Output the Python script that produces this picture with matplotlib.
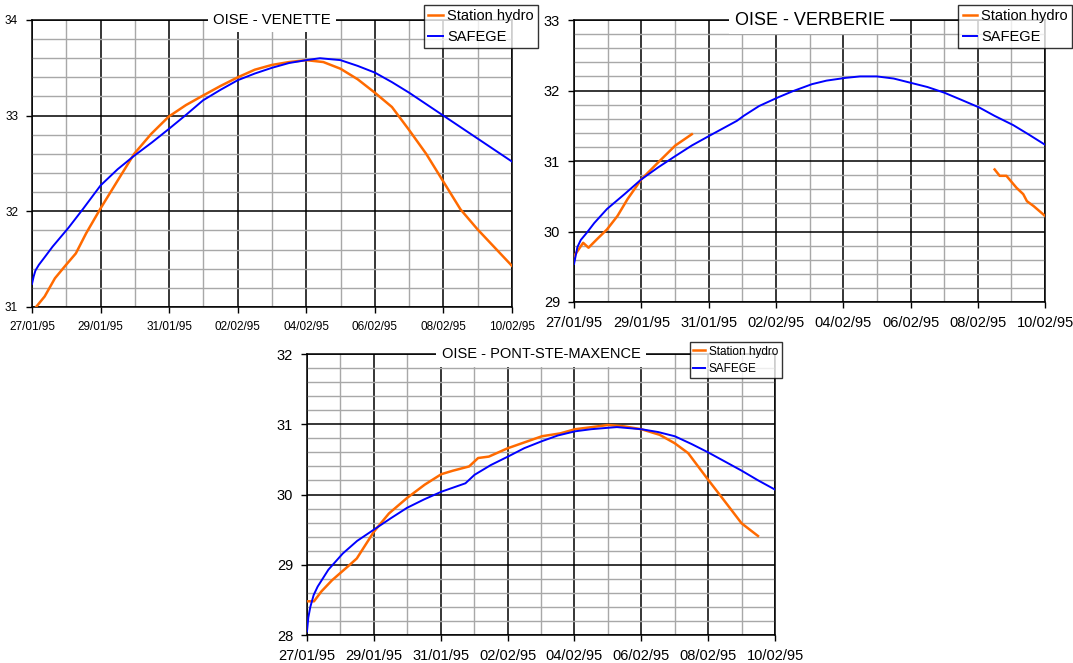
import numpy as np
import matplotlib
matplotlib.use("Agg")
import matplotlib.pyplot as plt
from matplotlib.ticker import MultipleLocator, FixedLocator

plt.rcParams['font.family'] = ['Liberation Sans', 'DejaVu Sans']

# x values are days after 27/01/95
date_labels = ['27/01/95', '29/01/95', '31/01/95', '02/02/95',
               '04/02/95', '06/02/95', '08/02/95', '10/02/95']
date_ticks = [0, 2, 4, 6, 8, 10, 12, 14]

# OISE - VENETTE
venette_hydro_t = [0.12, 0.37, 0.67, 0.97, 1.28, 1.58, 2.0, 2.48, 2.98, 3.48, 3.99, 4.49,
                   4.99, 5.5, 6.0, 6.5, 7.0, 7.5, 8.0, 8.5, 9.0, 9.5, 10.0, 10.5, 11.0,
                   11.5, 12.0, 12.5, 13.0, 13.5, 14.0]
venette_hydro_z = [31.0, 31.11, 31.3, 31.43, 31.56, 31.77, 32.03, 32.31, 32.6, 32.81, 32.99, 33.11,
                   33.21, 33.31, 33.4, 33.48, 33.53, 33.56, 33.58, 33.56, 33.49, 33.38, 33.24, 33.09,
                   32.85, 32.6, 32.31, 32.02, 31.81, 31.62, 31.43]
venette_safege_t = [0.0, 0.05, 0.1, 0.2, 0.37, 0.6, 1.07, 1.5, 2.0, 2.5, 2.98, 3.5, 3.99, 4.5,
                    4.99, 5.5, 6.0, 6.5, 7.0, 7.5, 8.0, 8.4, 9.0, 9.5, 10.0, 10.5, 11.0,
                    11.5, 12.0, 12.5, 13.0, 13.5, 14.0]
venette_safege_z = [31.24, 31.32, 31.38, 31.44, 31.52, 31.63, 31.83, 32.03, 32.27, 32.44, 32.58, 32.72,
                    32.86, 33.01, 33.16, 33.27, 33.37, 33.44, 33.5, 33.55, 33.58, 33.6, 33.58, 33.52,
                    33.45, 33.35, 33.24, 33.12, 33.0, 32.88, 32.76, 32.64, 32.52]

# OISE - VERBERIE (gap in the station record)
verberie_hydro_t = [0.0, 0.27, 0.43, 0.68, 0.98, 1.29, 1.59, 2.0, 2.5, 3.01, 3.5, np.nan,
                    12.5, 12.65, 12.85, 13.15, 13.35, 13.46, 13.66, 14.0]
verberie_hydro_z = [29.65, 29.84, 29.77, 29.89, 30.03, 30.22, 30.46, 30.74, 30.98, 31.22, 31.38, np.nan,
                    30.88, 30.79, 30.79, 30.62, 30.53, 30.43, 30.36, 30.22]
verberie_safege_t = [0.0, 0.1, 0.2, 0.375, 0.6, 0.98, 1.5, 2.0, 2.5, 3.01, 3.5, 4.03, 4.84,
                     5.04, 5.5, 6.05, 6.5, 7.07, 7.5, 8.08, 8.5, 9.0, 9.5, 10.0, 10.5, 11.0,
                     11.5, 12.04, 12.5, 13.05, 13.5, 14.0]
verberie_safege_z = [29.54, 29.78, 29.88, 29.98, 30.12, 30.32, 30.53, 30.74, 30.91, 31.07, 31.22, 31.36, 31.57,
                     31.64, 31.78, 31.9, 31.99, 32.09, 32.14, 32.18, 32.2, 32.2, 32.17, 32.11, 32.05, 31.97,
                     31.87, 31.76, 31.64, 31.51, 31.38, 31.23]

# OISE - PONT-STE-MAXENCE
pont_hydro_t = [0.0, 0.21, 0.43, 0.75, 1.28, 1.49, 2.0, 2.45, 2.99, 3.52, 4.02, 4.37, 4.85,
                5.12, 5.44, 6.01, 6.61, 7.03, 7.57, 8.02, 8.53, 9.0, 9.49, 10.0, 10.55,
                11.0, 11.4, 12.0, 12.47, 13.0, 13.49]
pont_hydro_z = [28.48, 28.48, 28.62, 28.78, 29.0, 29.09, 29.47, 29.73, 29.95, 30.14, 30.29, 30.34, 30.4,
                30.52, 30.54, 30.66, 30.76, 30.83, 30.87, 30.93, 30.96, 30.99, 30.97, 30.93, 30.85,
                30.73, 30.59, 30.21, 29.92, 29.59, 29.41]
pont_safege_t = [0.0, 0.04, 0.1, 0.2, 0.32, 0.64, 1.07, 1.5, 2.0, 2.5, 2.99, 3.5, 4.02, 4.74,
                 5.01, 5.5, 6.01, 6.5, 7.03, 7.5, 8.02, 8.5, 9.0, 9.27, 10.0, 10.5, 11.0,
                 11.5, 12.0, 12.5, 13.0, 13.5, 14.0]
pont_safege_z = [28.05, 28.25, 28.4, 28.57, 28.69, 28.93, 29.16, 29.34, 29.5, 29.66, 29.81, 29.93, 30.04, 30.16,
                 30.28, 30.42, 30.54, 30.66, 30.76, 30.84, 30.9, 30.93, 30.95, 30.96, 30.93, 30.89, 30.83,
                 30.72, 30.6, 30.47, 30.34, 30.2, 30.07]

ORANGE = '#ff6a00'
BLUE = '#0000ff'

fig = plt.figure(figsize=(10.73, 6.63), dpi=100)


def draw(rect, title, ylim, ht, hz, st, sz, tick_fs, title_fs, leg_loc, leg_anchor, leg_fs):
    ax = fig.add_axes(rect)
    ax.plot(ht, hz, color=ORANGE, lw=1.8, label='Station hydro', zorder=3)
    ax.plot(st, sz, color=BLUE, lw=1.4, label='SAFEGE', zorder=4)
    ax.set_xlim(0, 14)
    ax.set_ylim(*ylim)
    ax.xaxis.set_major_locator(FixedLocator(date_ticks))
    ax.set_xticklabels(date_labels)
    ax.xaxis.set_minor_locator(MultipleLocator(1))
    ax.yaxis.set_major_locator(MultipleLocator(1))
    ax.yaxis.set_minor_locator(MultipleLocator(0.2))
    ax.grid(which='minor', color='#a8a8a8', lw=1.0, zorder=1)
    ax.grid(which='major', color='black', lw=1.1, zorder=2)
    ax.set_axisbelow(True)
    ax.tick_params(which='major', direction='out', length=4, width=1, labelsize=tick_fs, pad=6)
    ax.tick_params(which='minor', length=0)
    for s in ax.spines.values():
        s.set_color('black')
        s.set_linewidth(1.1)
    ax.text(7, ylim[1], title, ha='center', va='center', fontsize=title_fs, zorder=6,
            bbox=dict(facecolor='white', edgecolor='none', pad=4))
    leg = ax.legend(loc=leg_loc, bbox_to_anchor=leg_anchor, bbox_transform=fig.transFigure,
                    fontsize=leg_fs, frameon=True, fancybox=False, handlelength=1.0,
                    handletextpad=0.3, borderpad=0.3, labelspacing=0.45, borderaxespad=0)
    leg.get_frame().set_edgecolor('black')
    leg.get_frame().set_linewidth(1.0)
    leg.set_zorder(10)
    return ax


draw([0.0298, 0.5370, 0.4473, 0.4329], 'OISE - VENETTE', (31, 34),
     venette_hydro_t, venette_hydro_z, venette_safege_t, venette_safege_z,
     8.5, 10.7, 'upper left', (0.395, 0.9925), 10.5)
draw([0.535, 0.5445, 0.439, 0.4253], 'OISE - VERBERIE', (29, 33),
     verberie_hydro_t, verberie_hydro_z, verberie_safege_t, verberie_safege_z,
     10.5, 13, 'upper right', (0.9995, 0.9925), 10.5)
draw([0.2861, 0.0422, 0.4362, 0.4238], 'OISE - PONT-STE-MAXENCE', (28, 32),
     pont_hydro_t, pont_hydro_z, pont_safege_t, pont_safege_z,
     10.5, 10.5, 'upper left', (0.643, 0.4842), 8.5)

fig.savefig('out.png', dpi=100)
